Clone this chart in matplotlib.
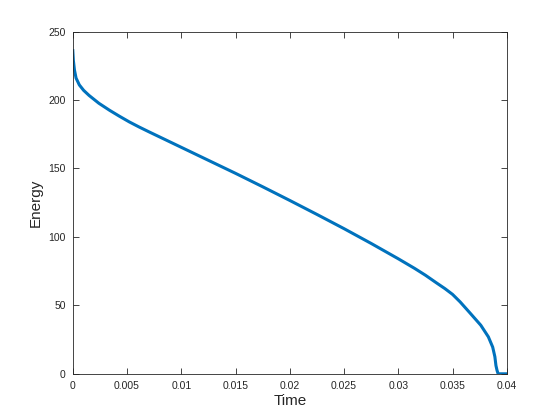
import matplotlib
matplotlib.use("Agg")
import matplotlib.pyplot as plt

time = [0, 0.00005, 0.00015, 0.0003, 0.0006, 0.001, 0.0015, 0.0024, 0.0034,
        0.0043, 0.0052, 0.0061, 0.007, 0.008, 0.009, 0.01, 0.0125, 0.015,
        0.0175, 0.02, 0.0225, 0.025, 0.0275, 0.03, 0.0315, 0.0325, 0.0335,
        0.0343, 0.035, 0.0357, 0.0366, 0.0376, 0.0383, 0.0387, 0.0389, 0.039,
        0.0391, 0.0392, 0.0396, 0.0399]
energy = [236, 229, 222, 216, 211, 207, 203.3, 197.6, 192.4,
          188.1, 184, 180.3, 176.8, 173, 169.2, 165.4, 155.9, 146.4,
          136.6, 126.6, 116.4, 106, 95.2, 84, 77, 72, 66.5,
          62.2, 58, 52.5, 44.5, 35.5, 27, 19.5, 12.5, 6,
          2.5, 0, 0, 0]
xticks = [0, 0.005, 0.01, 0.015, 0.02, 0.025, 0.03, 0.035, 0.04]
xticklabels = ["0", "0.005", "0.01", "0.015", "0.02", "0.025", "0.03", "0.035", "0.04"]
yticks = [0, 50, 100, 150, 200, 250]

plt.rcParams['font.family'] = ['Liberation Sans', 'DejaVu Sans']
fig = plt.figure(figsize=(5.6, 4.2), dpi=100)
ax = fig.add_axes([0.13, 0.11, 0.775, 0.815])
ax.plot(time, energy, color='#0072BD', linewidth=2.2, solid_joinstyle='round')
ax.set_xlim(0, 0.04)
ax.set_ylim(0, 250)
ax.set_xticks(xticks)
ax.set_xticklabels(xticklabels)
ax.set_yticks(yticks)
ax.tick_params(direction='in', top=True, right=True, length=4, width=0.6,
               colors='#262626', labelsize=7.5, pad=5)
for s in ax.spines.values():
    s.set_linewidth(0.6)
    s.set_color('#262626')
ax.set_xlabel('Time', fontsize=11, color='#262626', labelpad=2)
ax.set_ylabel('Energy', fontsize=11, color='#262626', labelpad=4)
fig.savefig('out.png', dpi=100)
